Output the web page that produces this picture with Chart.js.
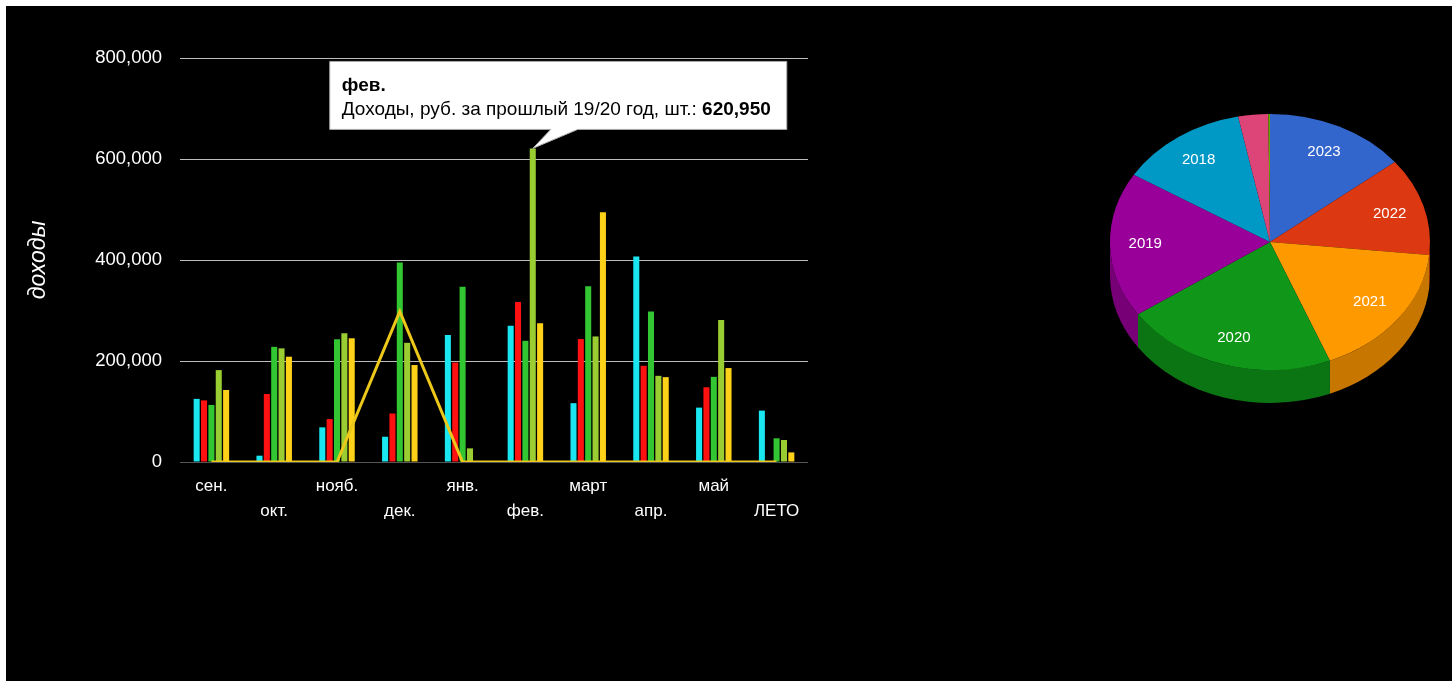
<!DOCTYPE html>
<html lang="ru">
<head>
<meta charset="utf-8">
<title>Доходы</title>
<script src="https://cdn.jsdelivr.net/npm/chart.js@4.4.1/dist/chart.umd.min.js"></script>
<style>
  html, body { margin: 0; padding: 0; background: #fff; }
  body { width: 1452px; height: 681px; position: relative; overflow: hidden; }
  .frame { position: absolute; left: 6px; top: 6px; right: 0; bottom: 0; background: #000; }
  .box { position: absolute; }
  #barBox { left: 0; top: 0; width: 830px; height: 562px; }
  #pieBox { left: 1100px; top: 72px; width: 340px; height: 340px; }
</style>
</head>
<body>
<div class="frame"></div>
<div class="box" id="barBox"><canvas id="barChart"></canvas></div>
<div class="box" id="pieBox"><canvas id="pieChart"></canvas></div>
<script>
// data
const months = ['сен.', 'окт.', 'нояб.', 'дек.', 'янв.', 'фев.', 'март', 'апр.', 'май', 'ЛЕТО'];
const yTicks = [0, 200000, 400000, 600000, 800000];
const cyanVals = [125000, 12500, 68600, 50000, 251500, 269800, 116500, 407000, 107700, 101800];
const redVals = [122000, 134700, 85000, 96000, 197000, 316900, 243500, 190500, 148000, 0];
const greenVals = [113000, 228000, 243000, 395000, 347000, 240000, 347900, 298000, 168600, 46900];
const lightGreenVals = [182000, 225000, 255000, 236000, 27000, 620950, 248600, 170600, 281000, 43600];
const yellowVals = [142600, 208500, 245000, 192000, 0, 275000, 494700, 168000, 186000, 19000];
const lineVals = [0, 0, 0, 298000, 0, 0, 0, 0, 0, 0];
const pieYears = ['2023', '2022', '2021', '2020', '2019', '2018', '2017', '2016'];
const pieVals = [51.3, 44.5, 62.2, 77.6, 66.1, 46.8, 10.9, 0.6];

const FONT = '"Liberation Sans", Arial, sans-serif';
const pieColors = ['#3366cc', '#dc3912', '#ff9900', '#109618', '#990099', '#0099c6', '#dd4477', '#66aa00'];
const fmt = v => v.toLocaleString('en-US');

// tooltip pinned over "фев." (dataset 3)
const TIP_DS = 3, TIP_IDX = 5;
const pinnedTip = {
    id: 'pinnedTip',
    afterDraw(chart) {
        const bar = chart.getDatasetMeta(TIP_DS).data[TIP_IDX];
        const ctx = chart.ctx;
        const label = chart.data.datasets[TIP_DS].label + ': ';
        const value = fmt(lightGreenVals[TIP_IDX]);
        ctx.save();
        ctx.font = '19px ' + FONT;
        const wLabel = ctx.measureText(label).width;
        ctx.font = 'bold 19px ' + FONT;
        const wValue = ctx.measureText(value).width;
        const left = bar.x - 203, top = bar.y - 87;
        const width = wLabel + wValue + 28, height = 68;
        const bottom = top + height, right = left + width;

        ctx.beginPath();
        ctx.moveTo(left, top);
        ctx.lineTo(right, top);
        ctx.lineTo(right, bottom);
        ctx.lineTo(bar.x + 45, bottom);
        ctx.lineTo(bar.x, bar.y);
        ctx.lineTo(bar.x + 18, bottom);
        ctx.lineTo(left, bottom);
        ctx.closePath();
        ctx.fillStyle = '#ffffff';
        ctx.fill();
        ctx.strokeStyle = '#aaaaaa';
        ctx.lineWidth = 1;
        ctx.stroke();

        ctx.fillStyle = '#000000';
        ctx.textBaseline = 'middle';
        ctx.textAlign = 'left';
        ctx.font = 'bold 19px ' + FONT;
        ctx.fillText(months[TIP_IDX], left + 12, top + 24);
        ctx.font = '19px ' + FONT;
        ctx.fillText(label, left + 12, top + 48);
        ctx.font = 'bold 19px ' + FONT;
        ctx.fillText(value, left + 12 + wLabel, top + 48);
        ctx.restore();
    }
};

const barSeries = [
    { label: 'Доходы, руб. за 23/24 год, шт.', data: cyanVals, color: '#19e6f0' },
    { label: 'Доходы, руб. за 22/23 год, шт.', data: redVals, color: '#ff1111' },
    { label: 'Доходы, руб. за 20/21 год, шт.', data: greenVals, color: '#33c633' },
    { label: 'Доходы, руб. за прошлый 19/20 год, шт.', data: lightGreenVals, color: '#9acd32' },
    { label: 'Доходы, руб. за 21/22 год, шт.', data: yellowVals, color: '#ffd21a' }
];

const barDatasets = barSeries.map(s => ({
    type: 'bar',
    label: s.label,
    data: s.data,
    backgroundColor: s.color,
    borderWidth: 0,
    categoryPercentage: 0.586,
    barPercentage: 0.82,
    order: 1
}));

barDatasets.push({
    type: 'line',
    label: 'Среднее',
    data: lineVals,
    borderColor: '#ecc81a',
    borderWidth: 3,
    pointRadius: 0,
    tension: 0,
    fill: false,
    order: 0
});

new Chart(document.getElementById('barChart'), {
    type: 'bar',
    data: { labels: months, datasets: barDatasets },
    options: {
        responsive: true,
        maintainAspectRatio: false,
        animation: false,
        events: [],
        layout: { padding: { left: 0, right: 22, top: 58, bottom: 0 } },
        plugins: {
            legend: { display: false },
            tooltip: { enabled: false }
        },
        scales: {
            x: {
                grid: { display: false, drawTicks: false },
                border: { display: false },
                ticks: {
                    color: '#ffffff',
                    autoSkip: false,
                    maxRotation: 0,
                    padding: 12,
                    font: { family: FONT, size: 17, lineHeight: 1.47 },
                    callback: (v, i) => (i % 2 ? ['', months[i]] : months[i])
                },
                afterFit: scale => { scale.height = 100; }
            },
            y: {
                min: 0,
                max: yTicks[yTicks.length - 1],
                afterBuildTicks: scale => { scale.ticks = yTicks.map(v => ({ value: v })); },
                grid: {
                    drawTicks: false,
                    color: c => (c.tick && c.tick.value === 0 ? '#555555' : '#bdbdbd'),
                    lineWidth: 1
                },
                border: { display: false },
                ticks: {
                    color: '#ffffff',
                    padding: 18,
                    font: { family: FONT, size: 18.5 },
                    callback: v => fmt(v)
                },
                title: {
                    display: true,
                    text: 'доходы',
                    color: '#ffffff',
                    padding: { top: 25, bottom: 0 },
                    font: { family: FONT, size: 23, style: 'italic', lineHeight: 1.2 }
                },
                afterFit: scale => { scale.width = 180; }
            }
        }
    },
    plugins: [pinnedTip]
});

// 3D pie: side walls + vertical squash
const SQUASH = 0.8, DEPTH = 33;
function shade(hex, f) {
    const n = parseInt(hex.slice(1), 16);
    const r = Math.round(((n >> 16) & 255) * f);
    const g = Math.round(((n >> 8) & 255) * f);
    const b = Math.round((n & 255) * f);
    return 'rgb(' + r + ',' + g + ',' + b + ')';
}

const pie3d = {
    id: 'pie3d',
    beforeDatasetsDraw(chart) {
        const ctx = chart.ctx;
        const arcs = chart.getDatasetMeta(0).data;
        const cx = arcs[0].x, cy = arcs[0].y, r = arcs[0].outerRadius;
        const ry = r * SQUASH;
        ctx.save();
        arcs.forEach((arc, i) => {
            const a0 = Math.max(arc.startAngle, 0);
            const a1 = Math.min(arc.endAngle, Math.PI);
            if (a1 <= a0) return;
            ctx.beginPath();
            ctx.ellipse(cx, cy, r, ry, 0, a0, a1);
            ctx.ellipse(cx, cy + DEPTH, r, ry, 0, a1, a0, true);
            ctx.closePath();
            ctx.fillStyle = shade(pieColors[i], 0.78);
            ctx.fill();
        });
        ctx.translate(0, cy);
        ctx.scale(1, SQUASH);
        ctx.translate(0, -cy);
    },
    afterDatasetsDraw(chart) {
        const ctx = chart.ctx;
        ctx.restore();
        const arcs = chart.getDatasetMeta(0).data;
        const total = pieVals.reduce((a, b) => a + b, 0);
        ctx.save();
        ctx.fillStyle = '#ffffff';
        ctx.font = '15px ' + FONT;
        ctx.textAlign = 'center';
        ctx.textBaseline = 'middle';
        arcs.forEach((arc, i) => {
            if (pieVals[i] / total < 0.05) return;
            const mid = (arc.startAngle + arc.endAngle) / 2;
            const x = arc.x + 0.78 * arc.outerRadius * Math.cos(mid);
            const y = arc.y + 0.78 * arc.outerRadius * SQUASH * Math.sin(mid);
            ctx.fillText(pieYears[i], x, y);
        });
        ctx.restore();
    }
};

new Chart(document.getElementById('pieChart'), {
    type: 'pie',
    data: {
        labels: pieYears,
        datasets: [{
            data: pieVals,
            backgroundColor: pieColors,
            borderWidth: 0,
            clip: false
        }]
    },
    options: {
        responsive: true,
        maintainAspectRatio: false,
        animation: false,
        events: [],
        layout: { padding: 10 },
        plugins: {
            legend: { display: false },
            tooltip: { enabled: false }
        }
    },
    plugins: [pie3d]
});
</script>
</body>
</html>
